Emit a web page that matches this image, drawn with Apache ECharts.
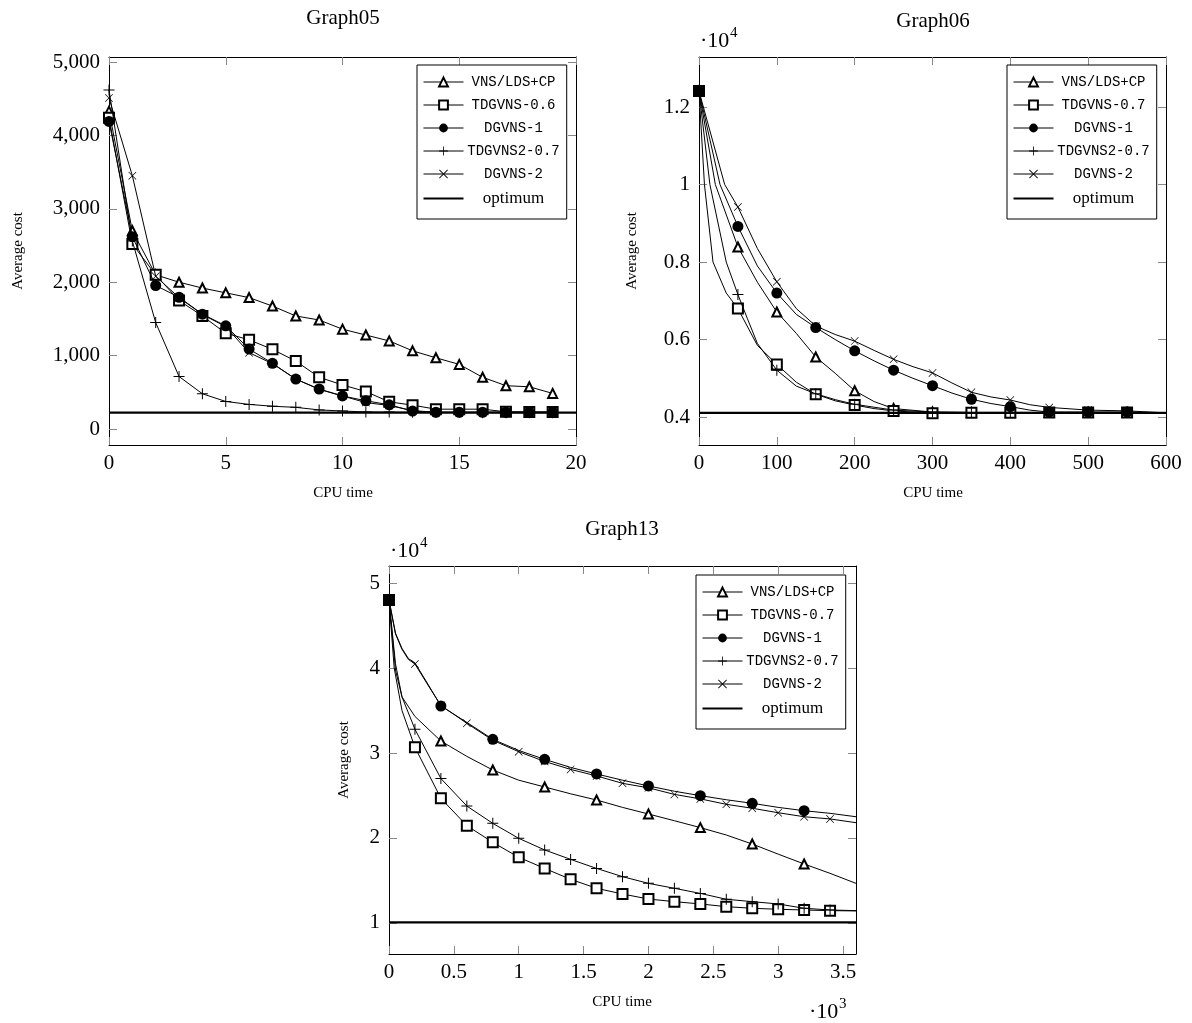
<!DOCTYPE html>
<html>
<head>
<meta charset="utf-8">
<script src="https://cdn.jsdelivr.net/npm/echarts@6/dist/echarts.min.js"></script>
<style>html,body{margin:0;padding:0;background:#fff}#c{width:1192px;height:1023px}</style>
</head>
<body>
<div id="c"></div>
<script>
// ---------- Graph05 ----------
const g5X = [0,1,2,3,4,5,6,7,8,9,10,11,12,13,14,15,16,17,18,19];
const g5VNS   = [4330,2700,2100,2000,1920,1855,1790,1675,1540,1485,1360,1280,1200,1065,970,880,705,590,575,485];
const g5TD    = [4240,2520,2100,1750,1540,1305,1215,1085,925,705,600,510,370,325,270,270,270,235,230,230];
const g5DG1   = [4190,2620,1955,1795,1565,1405,1090,895,680,545,450,385,330,245,228,228,228,228,228,228];
const g5TD2   = [4620,2560,1450,715,480,375,335,310,295,260,245,232,230,228,226,224,223,222,222,222];
const g5DG2   = [4510,3450,2080,1790,1560,1395,1040,890,680,540,450,360,320,250,228,228,228,228,228,228];
const g5Opt = 222;
const g5Names = ['VNS/LDS+CP','TDGVNS-0.6','DGVNS-1','TDGVNS2-0.7','DGVNS-2','optimum'];
const g5XTicks = [0,5,10,15,20];
const g5YTicks = [0,1000,2000,3000,4000,5000];

// ---------- Graph06 ----------
const g6VNS_x = [0,21,50,75,100,125,150,175,200,225,250,300,350,400,450,500,550,600];
const g6VNS_y = [12410,10000,8390,7480,6710,6160,5550,5130,4680,4400,4220,4130,4120,4120,4120,4120,4120,4110];
const g6TD_x  = [0,7,18,35,50,75,100,125,150,175,200,225,250,300,350,400,450,500,550,600];
const g6TD_y  = [12410,10000,8000,7200,6800,5850,5360,4900,4590,4420,4310,4220,4160,4100,4110,4110,4120,4120,4120,4110];
const g6DG1_x = [0,27,50,75,100,125,150,175,200,225,250,275,300,325,350,375,400,425,450,500,550,600];
const g6DG1_y = [12410,10000,8920,7900,7200,6650,6310,6000,5710,5450,5210,5000,4810,4620,4460,4350,4270,4180,4130,4130,4130,4110];
const g6TD2_x = [0,14,35,50,62,75,100,125,150,175,200,250,300,350,400,450,500,550,600];
const g6TD2_y = [12410,10000,8000,7160,6550,5900,5210,4800,4600,4450,4330,4180,4130,4120,4120,4120,4120,4120,4110];
const g6DG2_x = [0,33,50,75,100,125,150,175,200,225,250,275,300,325,350,375,400,425,450,500,550,600];
const g6DG2_y = [12410,10000,9420,8350,7490,6800,6350,6130,5960,5720,5490,5300,5140,4880,4640,4520,4440,4320,4250,4180,4160,4110];
const g6Opt = 4110;
const g6Names = ['VNS/LDS+CP','TDGVNS-0.7','DGVNS-1','TDGVNS2-0.7','DGVNS-2','optimum'];
const g6XTicks = [0,100,200,300,400,500,600];
const g6YTicks = [4000,6000,8000,10000,12000];

// ---------- Graph13 ----------
const g13VNS_x = [0,50,100,200,400,600,800,1000,1200,1400,1600,1800,2000,2200,2400,2600,2800,3000,3200,3400,3600];
const g13VNS_y = [48000,40500,36600,34300,31410,29600,28000,26800,26000,25200,24470,23600,22820,22030,21220,20350,19290,18100,16940,15840,14660];
const g13TD_x  = [0,40,100,200,400,600,800,1000,1200,1400,1600,1800,2000,2200,2400,2600,2800,3000,3200,3400,3600];
const g13TD_y  = [48000,40000,35000,30670,24670,21450,19490,17730,16420,15140,14080,13410,12820,12510,12240,11920,11730,11610,11530,11450,11420];
const g13DG1_x = [0,50,100,150,200,300,400,600,800,1000,1200,1400,1600,1800,2000,2200,2400,2600,2800,3000,3200,3400,3600];
const g13DG1_y = [48000,44100,42300,41100,40600,38100,35530,33600,31610,30300,29250,28300,27530,26800,26120,25500,24980,24500,24080,23600,23210,22900,22500];
const g13TD2_x = [0,50,100,200,400,600,800,1000,1200,1400,1600,1800,2000,2200,2400,2600,2800,3000,3200,3400,3600];
const g13TD2_y = [48000,39760,36600,32790,27000,23760,21720,19960,18590,17480,16420,15450,14660,14080,13480,12790,12510,12240,11730,11530,11450];
const g13DG2_x = [0,50,100,150,200,300,400,600,800,1000,1200,1400,1600,1800,2000,2200,2400,2600,2800,3000,3200,3400,3600];
const g13DG2_y = [48000,44000,42200,41000,40470,38000,35600,33490,31500,30150,29000,28070,27300,26430,25900,25130,24600,23960,23500,22970,22500,22240,21800];
const g13Opt = 10080;
const g13Names = ['VNS/LDS+CP','TDGVNS-0.7','DGVNS-1','TDGVNS2-0.7','DGVNS-2','optimum'];
const g13XTicks = [0,500,1000,1500,2000,2500,3000,3500];
const g13YTicks = [10000,20000,30000,40000,50000];

// ---------- styling ----------
const SERIF = 'Liberation Serif';
const MONO = 'Liberation Mono';
const PLUS = 'path://M4.55,0H5.45V10H4.55Z M0,4.55H10V5.45H0Z';
const CROSS = 'path://M0.6,0L10,9.4L9.4,10L0,0.6Z M9.4,0L10,0.6L0.6,10L0,9.4Z';
const OPT_ICON = 'path://M0,0H0.01V0.01H0Z M0,4.4H40V6.6H0Z M39.99,10.99H40V11H39.99Z';
const markerStyles = [
  {symbol:'emptyTriangle', symbolSize:9, itemStyle:{color:'#000', borderColor:'#000', borderWidth:0.9}},
  {symbol:'emptyRect', symbolSize:10, itemStyle:{color:'#000', borderColor:'#000', borderWidth:0.9}},
  {symbol:'circle', symbolSize:11, itemStyle:{color:'#000', borderWidth:0}},
  {symbol:PLUS, symbolSize:11, itemStyle:{color:'#000', borderWidth:0}},
  {symbol:CROSS, symbolSize:8, itemStyle:{color:'#000', borderWidth:0}}
];

const grids = [
  {left:109, top:57, width:467, height:388},
  {left:699, top:57, width:467, height:388},
  {left:389, top:566, width:467, height:388}
];

const xAxes = [], yAxes = [];
function addAxes(gi, xmin, xmax, xticks, xfmt, ymin, ymax, yticks, yfmt) {
  const line = {show:true, onZero:false, lineStyle:{color:'#000', width:1}};
  const lab = {fontFamily:SERIF, fontSize:21, color:'#000'};
  ['bottom','top'].forEach(function(pos, k){
    xAxes.push({type:'value', gridIndex:gi, position:pos, min:xmin, max:xmax,
      axisLine:line, splitLine:{show:false},
      axisTick:{show:true, inside:true, length:8, customValues:xticks, lineStyle:{color:'#888'}},
      axisLabel:Object.assign({show:k===0, customValues:xticks, formatter:xfmt, margin:8}, lab)});
  });
  ['left','right'].forEach(function(pos, k){
    yAxes.push({type:'value', gridIndex:gi, position:pos, min:ymin, max:ymax,
      axisLine:line, splitLine:{show:false},
      axisTick:{show:true, inside:true, length:8, customValues:yticks, lineStyle:{color:'#888'}},
      axisLabel:Object.assign({show:k===0, customValues:yticks, formatter:yfmt, margin:9}, lab)});
  });
}
addAxes(0, 0, 20, g5XTicks, function(v){return String(v);}, -218, 5068, g5YTicks,
  function(v){return v.toLocaleString('en-US');});
addAxes(1, 0, 600, g6XTicks, function(v){return String(v);}, 3280, 13290, g6YTicks,
  function(v){return String(+(v/10000).toFixed(2));});
addAxes(2, 0, 3600, g13XTicks, function(v){return String(+(v/1000).toFixed(2));}, 6350, 52000, g13YTicks,
  function(v){return String(+(v/10000).toFixed(2));});

const series = [];
function pts(xs, ys, every, lastMark) {
  return xs.map(function(x, i){
    const item = {value:[x, ys[i]]};
    if (x % every !== 0 || x > lastMark) item.symbol = 'none';
    return item;
  });
}
function addSeries(gi, names, sets, opt, xmax) {
  sets.forEach(function(s, i){
    series.push(Object.assign({
      type:'line', name:names[i], xAxisIndex:gi*2, yAxisIndex:gi*2,
      data:s, showAllSymbol:true, animation:false, smooth:false,
      lineStyle:{color:'#000', width:1}, z:2+i
    }, markerStyles[i]));
  });
  series.push({type:'line', name:names[5], xAxisIndex:gi*2, yAxisIndex:gi*2,
    data:[[0,opt],[xmax,opt]], symbol:'none', animation:false,
    lineStyle:{color:'#000', width:2.2}, itemStyle:{color:'#000'}, z:10});
}
function zipAll(xs, ys) { return xs.map(function(x,i){return [x, ys[i]];}); }

addSeries(0, g5Names, [
  zipAll(g5X, g5VNS), zipAll(g5X, g5TD), zipAll(g5X, g5DG1), zipAll(g5X, g5TD2), zipAll(g5X, g5DG2)
], g5Opt, 20);
addSeries(1, g6Names, [
  pts(g6VNS_x, g6VNS_y, 50, 550), pts(g6TD_x, g6TD_y, 50, 550), pts(g6DG1_x, g6DG1_y, 50, 550),
  pts(g6TD2_x, g6TD2_y, 50, 550), pts(g6DG2_x, g6DG2_y, 50, 550)
], g6Opt, 600);
addSeries(2, g13Names, [
  pts(g13VNS_x, g13VNS_y, 400, 3200), pts(g13TD_x, g13TD_y, 200, 3400), pts(g13DG1_x, g13DG1_y, 400, 3200),
  pts(g13TD2_x, g13TD2_y, 200, 3400), pts(g13DG2_x, g13DG2_y, 200, 3400)
], g13Opt, 3600);

function legendAt(left, top, names) {
  const data = names.map(function(n, i){
    if (i === 5) return {name:n, icon:OPT_ICON, itemStyle:{color:'#000', borderWidth:0}};
    if (i >= 2) return {name:n, itemStyle:{borderWidth:0}};
    return {name:n};
  });
  return {
    left:left, top:top, orient:'vertical', data:data,
    itemWidth:40, itemHeight:11, itemGap:9,
    padding:[10, 7, 12, 6], borderColor:'#000', borderWidth:1, backgroundColor:'#fff',
    selectedMode:false, z:20,
    lineStyle:{width:1, color:'#000'},
    itemStyle:{borderWidth:0.9, borderColor:'#000'},
    formatter:function(n){ return n === 'optimum' ? '{o|' + n + '}' : '{m|' + n + '}'; },
    textStyle:{color:'#000', rich:{
      m:{fontFamily:MONO, fontSize:14, width:90, align:'center', color:'#000'},
      o:{fontFamily:SERIF, fontSize:17, width:90, align:'center', color:'#000'}
    }}
  };
}

function txt(x, y, s, size, opts, align) {
  return Object.assign({type:'text', x:x, y:y, z:30,
    style:{text:s, fontFamily:SERIF, fontSize:size, fill:'#000', align:align || 'center', verticalAlign:'middle'}}, opts || {});
}
const graphics = [
  txt(343, 18, 'Graph05', 21),
  txt(933, 21, 'Graph06', 21),
  txt(622, 529, 'Graph13', 21),
  txt(18, 251, 'Average cost', 15, {rotation:Math.PI/2}),
  txt(632, 251, 'Average cost', 15, {rotation:Math.PI/2}),
  txt(344, 760, 'Average cost', 15, {rotation:Math.PI/2}),
  txt(343, 493, 'CPU time', 15),
  txt(933, 493, 'CPU time', 15),
  txt(622, 1002, 'CPU time', 15),
  txt(700, 41, '·10', 22, null, 'left'),
  txt(730, 33, '4', 15, null, 'left'),
  txt(390, 551, '·10', 22, null, 'left'),
  txt(420, 543, '4', 15, null, 'left'),
  txt(809, 1012, '·10', 22, null, 'left'),
  txt(839, 1004, '3', 15, null, 'left')
];

const chart = echarts.init(document.getElementById('c'), null, {renderer:'canvas'});
chart.setOption({
  backgroundColor:'#fff',
  animation:false,
  grid:grids,
  xAxis:xAxes,
  yAxis:yAxes,
  legend:[legendAt(417, 65, g5Names), legendAt(1007, 65, g6Names), legendAt(696, 575, g13Names)],
  graphic:graphics,
  series:series
});
</script>
</body>
</html>
